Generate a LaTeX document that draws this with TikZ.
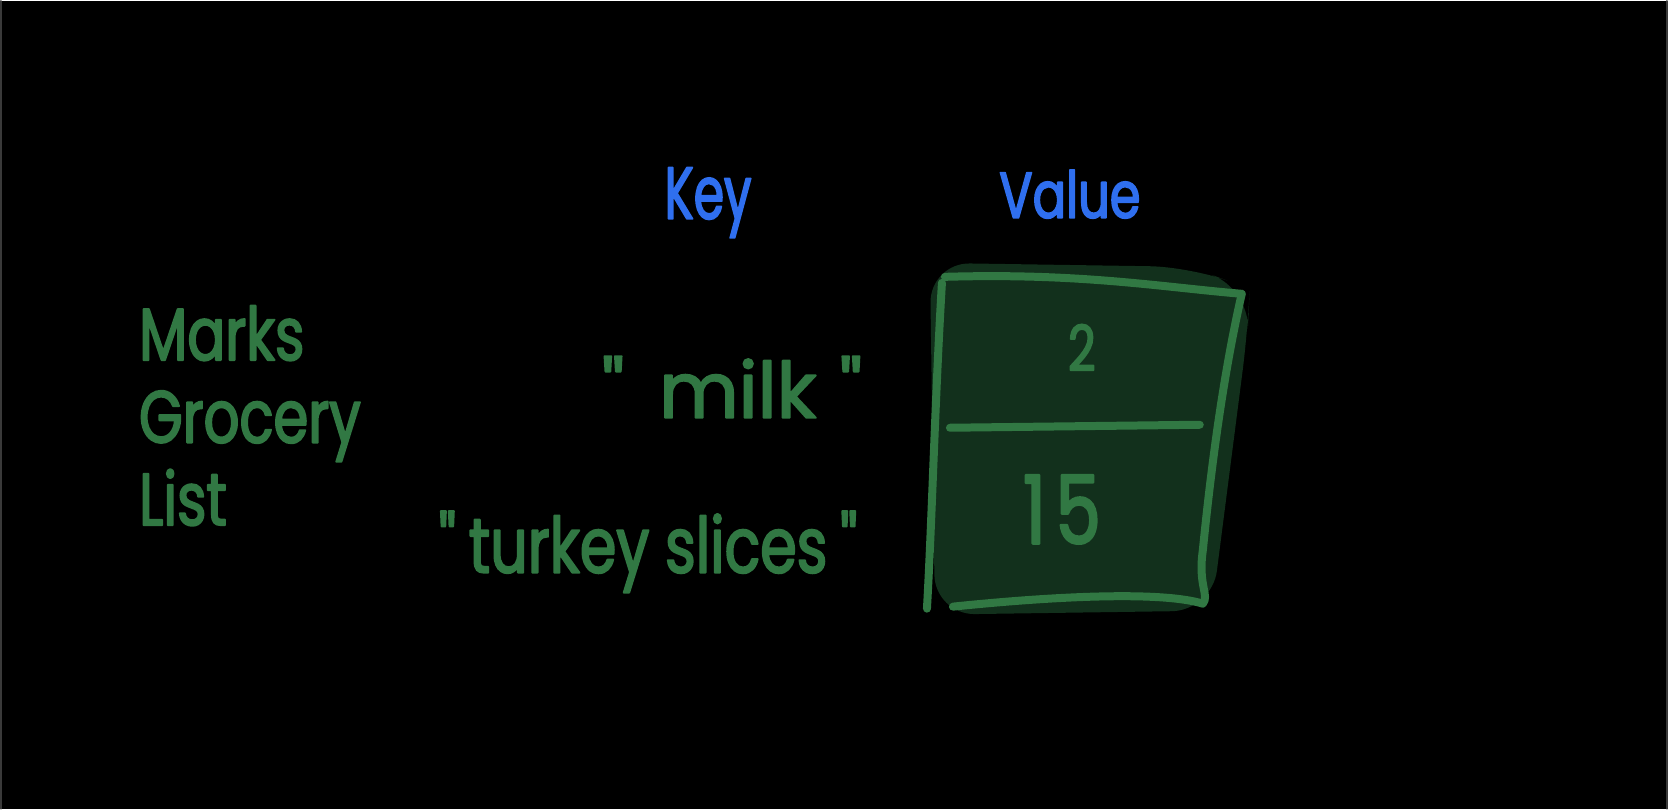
\documentclass[tikz,border=0pt]{standalone}
\usepackage{fontspec}
\setmainfont{Poppins}
\newfontfamily\handfont[FakeStretch=0.76,FakeBold=2.4]{Poppins}
\newfontfamily\widehand[FakeBold=2.4]{Poppins}
\newfontfamily\headfont[FakeStretch=0.66,FakeBold=2.2]{Poppins}
\definecolor{inkgreen}{HTML}{317843}
\definecolor{inkblue}{HTML}{2F6FEF}
\definecolor{cellfill}{HTML}{12301C}
\definecolor{framegray}{HTML}{3A3A3A}

\begin{document}
\begin{tikzpicture}[
  x=0.1mm,
  y=-0.1mm,
  line cap=round,
  line join=round,
  heading/.style={text=inkblue,font=\headfont\fontsize{21}{24}\selectfont,inner sep=0pt,anchor=base},
  entry/.style={text=inkgreen,font=\handfont\fontsize{22}{24}\selectfont,inner sep=0pt,anchor=base},
  stroke/.style={draw=inkgreen,line width=0.8mm}
]
  % Black page with faint side edges, one unit per pixel.
  \fill[black] (0,0) rectangle (1668,808);
  \draw[framegray,line width=0.2mm] (0.5,0) -- (0.5,808) (1667.5,0) -- (1667.5,808);
  \useasboundingbox (0,0) rectangle (1668,808);

  % Column headings.
  \node[heading] (keyhead) at (708,218) {Key};
  \node[heading,font=\handfont\fontsize{18.5}{20}\selectfont] (valuehead) at (1070,217) {Value};

  % Title of the map.
  \node[entry,anchor=north west,align=left,font=\handfont\fontsize{21}{23.5}\selectfont]
    (title) at (138,304) {Marks\\Grocery\\List};

  % Keys.
  \node[entry,font=\widehand\fontsize{22}{24}\selectfont] (milkkey) at (732,417)
    {"\hspace{0.45em}milk\hspace{0.3em}"};
  \node[entry] (turkeykey) at (648,572) {"\,turkey slices\,"};

  % Value cell: dark fill under the hand-drawn outline.
  \coordinate (tl) at (945,276);
  \coordinate (tr) at (1242,293);
  \coordinate (br) at (1203,603);
  \coordinate (bl) at (927,608);
  \coordinate (ml) at (950,427);
  \coordinate (mr) at (1200,424);
  \fill[cellfill,rounded corners=4mm] (930,262) -- (1190,266) -- (1250,288)
    -- (1248,330) -- (1212,610) -- (935,614) -- cycle;
  \draw[stroke] (tl) .. controls (1080,272) and (1160,286) .. (tr);
  \draw[stroke] (942,282) .. controls (935,400) and (932,520) .. (bl);
  \draw[stroke] (tr) .. controls (1222,380) and (1210,480) .. (1203,550)
    .. controls (1198,585) and (1210,595) .. (br);
  \draw[stroke] (953,606) .. controls (1050,596) and (1160,590) .. (br);
  \draw[stroke] (ml) -- (mr);

  % Values.
  \node[entry,font=\handfont\fontsize{18}{20}\selectfont] (milkval) at (1082,370) {2};
  \node[entry,font=\handfont\fontsize{27}{30}\selectfont] (turkeyval) at (1062,543) {1\hspace{0.1em}5};
\end{tikzpicture}
\end{document}
